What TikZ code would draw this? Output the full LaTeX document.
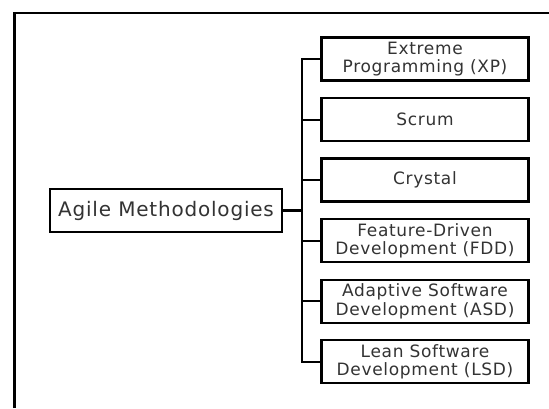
\documentclass[tikz,border=0pt]{standalone}
\usepackage{fontspec}
\setmainfont[LetterSpace=4]{DejaVu Sans}
\definecolor{txt}{HTML}{333333}
\begin{document}
\begin{tikzpicture}[x=1pt,y=-1pt,
  box/.style={draw=black,line width=2.2pt,minimum width=207pt,minimum height=43pt,inner sep=0pt,align=center,text=txt,font=\fontsize{17}{18.5}\selectfont},
  root/.style={draw=black,line width=2.2pt,minimum width=232pt,minimum height=43pt,inner sep=0pt,text=txt,font=\fontsize{20}{24}\selectfont},
  conn/.style={line width=2.2pt}]
\useasboundingbox (0,0) rectangle (549,408);
\fill[white] (0,0) rectangle (549,408);
\draw[line width=2.8pt] (14.5,408) -- (14.5,13) -- (549,13);
\node[root] (agile) at (166,210.5) {Agile Methodologies};
\node[box] (xp) at (425,59) {Extreme\\Programming (XP)};
\node[box] (scrum) at (425,119.7) {Scrum};
\node[box] (crystal) at (425,180) {Crystal};
\node[box] (fdd) at (425,240.7) {Feature-Driven\\Development (FDD)};
\node[box] (asd) at (425,301.3) {Adaptive Software\\Development (ASD)};
\node[box] (lsd) at (425,361.7) {Lean Software\\Development (LSD)};
\coordinate (sp) at (302,210.5);
\draw[conn] (agile.east) -- (sp);
\draw[conn] (xp.west) -- (xp.west -| sp) -- (lsd.west -| sp) -- (lsd.west);
\foreach \n in {scrum,crystal,fdd,asd}{\draw[conn] (\n.west) -- (\n.west -| sp);}
\end{tikzpicture}
\end{document}
